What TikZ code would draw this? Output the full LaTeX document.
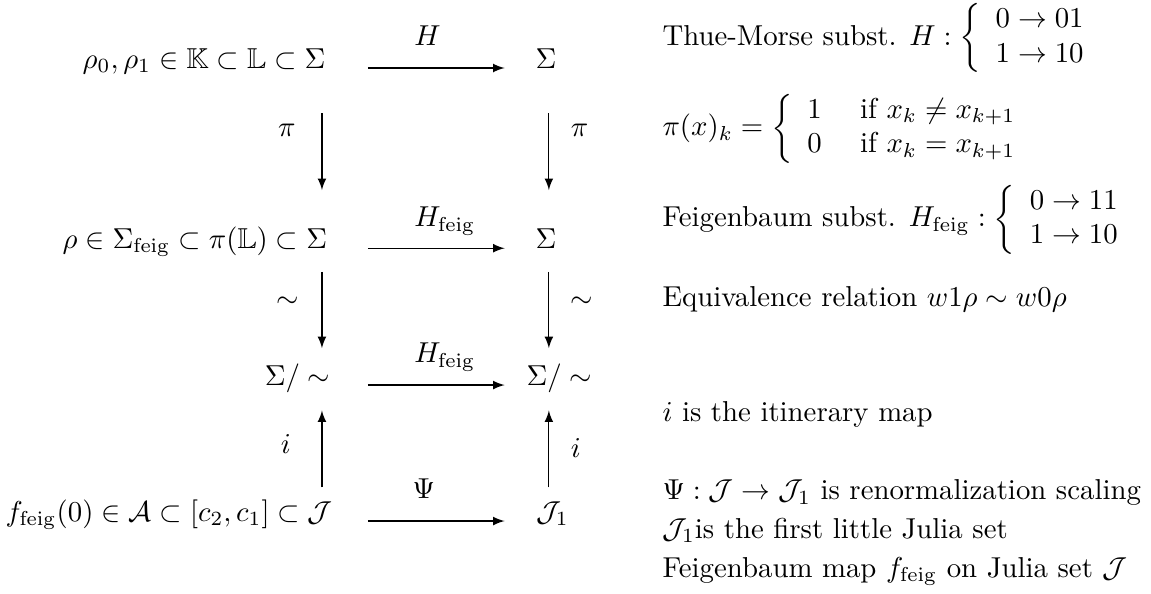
\documentclass[tikz,border=0pt]{standalone}
\usepackage{amssymb}
\usetikzlibrary{arrows}

\begin{document}
\begin{tikzpicture}[
    every node/.style={inner sep=0pt},
    arrow/.style={->, >=latex, thin},
    hmap/.style={arrow, shorten <=0.56cm, shorten >=0.54cm},
    note/.style={anchor=base west},
]
\useasboundingbox (0,0) rectangle (14.05,-7.24);
% column points of the square
\coordinate (l1) at (3.93,-0.83);
\coordinate (l2) at (3.93,-3.03);
\coordinate (l3) at (3.93,-4.70);
\coordinate (l4) at (3.93,-6.36);
\coordinate (r1) at (6.70,-0.83);
\coordinate (r2) at (6.70,-3.03);
\coordinate (r3) at (6.70,-4.70);
\coordinate (r4) at (6.70,-6.36);
% left column
\node[anchor=base east] (s1) at (3.98,-0.83) {$\rho_0,\rho_1\in\mathbb{K}\subset\mathbb{L}\subset\Sigma$};
\node[anchor=base east] (s2) at (4.00,-3.03) {$\rho\in\Sigma_{\mathrm{feig}}\subset\pi(\mathbb{L})\subset\Sigma$};
\node[anchor=base east] (s3) at (4.04,-4.70) {$\Sigma/\sim$};
\node[anchor=base east] (s4) at (4.07,-6.36) {$f_{\mathrm{feig}}(0)\in\mathcal{A}\subset[c_2,c_1]\subset\mathcal{J}$};
% right column
\node[anchor=base west] (t1) at (6.53,-0.83) {$\Sigma$};
\node[anchor=base west] (t2) at (6.53,-3.03) {$\Sigma$};
\node[anchor=base west] (t3) at (6.42,-4.70) {$\Sigma/\sim$};
\node[anchor=base west] (t4) at (6.54,-6.36) {$\mathcal{J}_1$};
% maps
\draw[hmap] (l1) -- (r1);
\draw[hmap] (l2) -- (r2);
\draw[hmap] (l3) -- (r3);
\draw[hmap] (l4) -- (r4);
\draw[arrow, shorten <=0.55cm, shorten >=0.71cm] (l1) -- (l2);
\draw[arrow, shorten <=0.55cm, shorten >=0.71cm] (r1) -- (r2);
\draw[arrow, shorten <=0.29cm, shorten >=0.45cm] (l2) -- (l3);
\draw[arrow, shorten <=0.29cm, shorten >=0.45cm] (r2) -- (r3);
\draw[arrow, shorten <=0.41cm, shorten >=0.31cm] (l4) -- (l3);
\draw[arrow, shorten <=0.41cm, shorten >=0.31cm] (r4) -- (r3);
\node[anchor=base west] (h1) at (5.05,-0.55) {$H$};
\node[anchor=base west] (h2) at (5.05,-2.77) {$H_{\mathrm{feig}}$};
\node[anchor=base west] (h3) at (5.05,-4.43) {$H_{\mathrm{feig}}$};
\node[anchor=base west] (h4) at (5.03,-6.08) {$\Psi$};
\node[anchor=base] (p1) at (3.50,-1.67) {$\pi$};
\node[anchor=base] (q1) at (3.51,-3.75) {$\sim$};
\node[anchor=base] (i1) at (3.49,-5.53) {$i$};
\node[anchor=base west] (p2) at (6.96,-1.67) {$\pi$};
\node[anchor=base west] (q2) at (6.96,-3.75) {$\sim$};
\node[anchor=base west] (i2) at (6.96,-5.59) {$i$};
% explanations
\node[note] (d1) at (8.08,-0.55) {Thue-Morse subst. $H:\left\{\begin{array}{l}0\to01\\1\to10\end{array}\right.$};
\node[note] (d2) at (8.08,-1.66) {$\pi(x)_k=\left\{\begin{array}{ll}1&\mbox{ if }x_k\neq x_{k+1}\\0&\mbox{ if }x_k=x_{k+1}\end{array}\right.$};
\node[note] (d3) at (8.08,-2.77) {Feigenbaum subst. $H_{\mathrm{feig}}:\left\{\begin{array}{l}0\to11\\1\to10\end{array}\right.$};
\node[note] (d4) at (8.08,-3.74) {Equivalence relation $w1\rho\sim w0\rho$};
\node[note] (d5) at (8.08,-5.14) {$i$ is the itinerary map};
\node[note] (d6) at (8.08,-6.10) {$\Psi:\mathcal{J}\to\mathcal{J}_1$ is renormalization scaling};
\node[note] (d7) at (8.08,-6.57) {$\mathcal{J}_1$is the first little Julia set};
\node[note] (d8) at (8.08,-7.05) {Feigenbaum map $f_{\mathrm{feig}}$ on Julia set $\mathcal{J}$};
\end{tikzpicture}
\end{document}
